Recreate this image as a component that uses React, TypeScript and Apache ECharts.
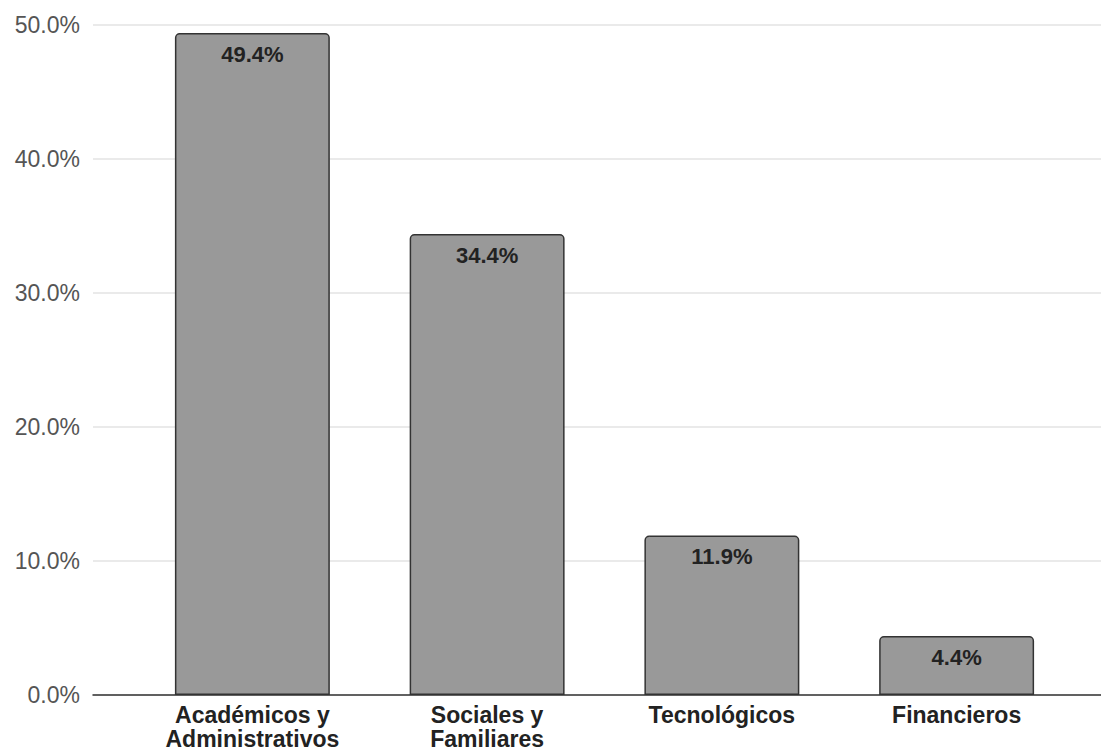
import React, { useEffect, useRef } from "react";
import * as echarts from "echarts";

const categories = ["Académicos y\nAdministrativos", "Sociales y\nFamiliares", "Tecnológicos", "Financieros"];
const values = [49.4, 34.4, 11.9, 4.4];
const yTicks = [0, 10, 20, 30, 40, 50];

export default function App() {
  const ref = useRef<HTMLDivElement>(null);
  useEffect(() => {
    if (!ref.current) return;
    const chart = echarts.init(ref.current, null, { renderer: "svg" });
    const top = 25;
    const bottom = 58;
    const font = "'Liberation Sans', Arial, sans-serif";
    chart.setOption({
      animation: false,
      backgroundColor: "#ffffff",
      grid: [
        { left: 93, right: 0, top, bottom },
        { left: 135, right: 27, top, bottom },
      ],
      xAxis: [
        {
          type: "value",
          gridIndex: 0,
          min: 0,
          max: 1,
          axisLine: { show: true, lineStyle: { color: "#333333", width: 1.5 } },
          axisTick: { show: false },
          axisLabel: { show: false },
          splitLine: { show: false },
        },
        {
          type: "category",
          gridIndex: 1,
          data: categories,
          axisLine: { show: false },
          axisTick: { show: false },
          axisLabel: {
            color: "#222222",
            fontFamily: font,
            fontWeight: "bold",
            fontSize: 23,
            lineHeight: 24,
            margin: 8,
            interval: 0,
          },
        },
      ],
      yAxis: [
        {
          type: "value",
          gridIndex: 0,
          min: yTicks[0],
          max: yTicks[yTicks.length - 1],
          interval: 10,
          axisLine: { show: false },
          axisTick: { show: false },
          axisLabel: {
            color: "#555555",
            fontFamily: font,
            fontSize: 23,
            margin: 13,
            formatter: (v: number) => v.toFixed(1) + "%",
          },
          splitLine: { show: true, lineStyle: { color: "#e3e3e3", width: 1.5 } },
        },
        {
          type: "value",
          gridIndex: 1,
          min: yTicks[0],
          max: yTicks[yTicks.length - 1],
          show: false,
        },
      ],
      series: [
        {
          type: "bar",
          xAxisIndex: 1,
          yAxisIndex: 1,
          data: values,
          barWidth: "66%",
          itemStyle: {
            color: "#999999",
            borderColor: "#333333",
            borderWidth: 1.5,
            borderRadius: [4, 4, 0, 0],
          },
          label: {
            show: true,
            position: "insideTop",
            distance: 10,
            color: "#222222",
            fontFamily: font,
            fontWeight: "bold",
            fontSize: 22,
            formatter: (p: any) => Number(p.value).toFixed(1) + "%",
          },
        },
      ],
    });
    return () => chart.dispose();
  }, []);
  return (
    <div
      ref={ref}
      style={{ position: "fixed", left: 0, top: 0, width: 1101, height: 753 }}
    />
  );
}
